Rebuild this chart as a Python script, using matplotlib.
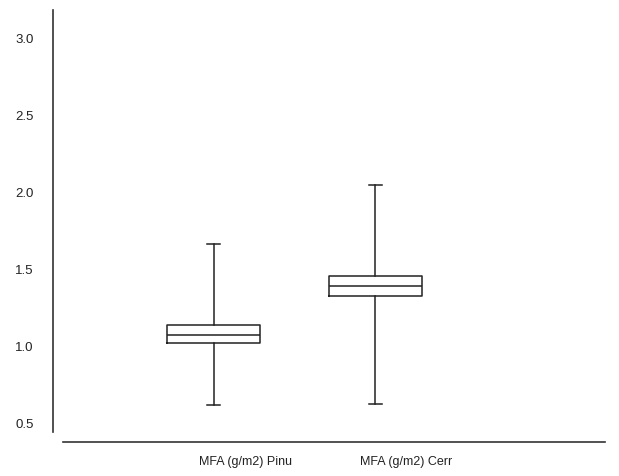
import matplotlib
matplotlib.use("Agg")
import matplotlib.pyplot as plt
import matplotlib.transforms as mtransforms

# box statistics
labels = ["MFA (g/m2) Pinu", "MFA (g/m2) Cerr"]
whislo = [0.617, 0.626]
q1 = [1.018, 1.326]
med = [1.074, 1.393]
q3 = [1.139, 1.458]
whishi = [1.664, 2.047]

yticks = [0.5, 1.0, 1.5, 2.0, 2.5, 3.0]

plt.rcParams['font.family'] = ['Liberation Sans', 'DejaVu Sans']

W, H = 619, 476
fig = plt.figure(figsize=(W/100, H/100), dpi=100)
ax = fig.add_axes([53/W, 1 - 442/H, (605-53)/W, (442-10)/H])

stats = []
for i in range(len(labels)):
    stats.append(dict(label=labels[i], whislo=whislo[i], q1=q1[i], med=med[i],
                      q3=q3[i], whishi=whishi[i], fliers=[]))

col = '#222222'
lw = 1.1
ax.bxp(stats, positions=[1, 2], widths=0.574, capwidths=0.08, showfliers=False,
       boxprops=dict(color=col, linewidth=lw),
       whiskerprops=dict(color=col, linewidth=lw),
       capprops=dict(color=col, linewidth=lw),
       medianprops=dict(color=col, linewidth=lw))

ax.set_xlim(0.0056, 3.421)
ax.set_ylim(0.3765, 3.185)

for s in ['top', 'right']:
    ax.spines[s].set_visible(False)
ax.spines['left'].set_bounds(0.4415, 3.185)
ax.spines['bottom'].set_bounds(0.0675, 3.421)
for s in ['left', 'bottom']:
    ax.spines[s].set_color('#333333')
    ax.spines[s].set_linewidth(1.2)

ax.set_yticks(yticks)
ax.set_yticklabels([f"{v:.1f}" for v in yticks])
ax.tick_params(axis='y', length=0, pad=14, labelsize=9.5, labelcolor='#222222')

ax.set_xticks([1, 2])
ax.set_xticklabels(labels, ha='left')
ax.tick_params(axis='x', length=0, pad=10, labelsize=9, labelcolor='#222222')
offset = mtransforms.ScaledTranslation(-15/100, 0, fig.dpi_scale_trans)
for lab in ax.get_xticklabels():
    lab.set_transform(lab.get_transform() + offset)

fig.savefig("out.png", dpi=100)
